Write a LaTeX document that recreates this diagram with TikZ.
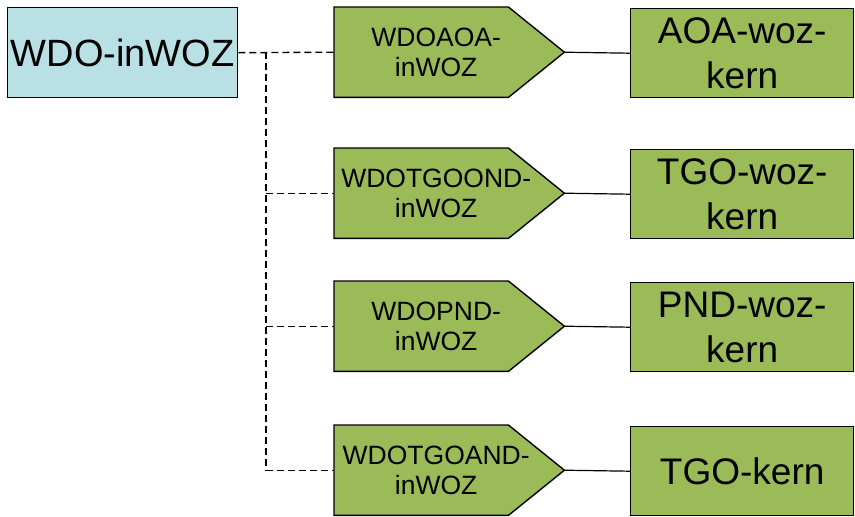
\documentclass[tikz,border=0pt]{standalone}
\usepackage{fontspec}
\setmainfont{Liberation Sans}
\definecolor{boxgreen}{HTML}{9BBB59}
\definecolor{boxcyan}{HTML}{B9E0E4}
\begin{document}
\begin{tikzpicture}[x=1pt,y=-1pt,
  frame/.style={draw=none,minimum width=230pt,minimum height=90pt,inner sep=0pt,anchor=north west},
  rootbox/.style={draw=black,line width=1.4pt,fill=boxcyan,minimum width=230pt,minimum height=90pt,inner sep=0pt,anchor=north west,font=\fontsize{38}{44}\selectfont},
  kernbox/.style={draw=black,line width=1.4pt,fill=boxgreen,minimum width=223pt,minimum height=89pt,inner sep=0pt,anchor=north west,align=center,font=\fontsize{37}{45}\selectfont},
  pentshape/.style={draw=black,line width=1.4pt,fill=boxgreen,line join=miter},
  penttext/.style={align=center,inner sep=0pt,font=\fontsize{26.5}{30}\selectfont},
  dashline/.style={draw=black,line width=1.4pt,dash pattern=on 7pt off 4pt},
  solidline/.style={draw=black,line width=1.2pt}]
\useasboundingbox (0,0) rectangle (855,517);

\node[rootbox] (wdo) at (7,7) {WDO-inWOZ};

\foreach \n/\t in {p1/7,p2/148,p3/281,p4/425}{
  \node[frame] (\n) at (334,\t) {};
  \path[pentshape] (\n.north west) -- ([xshift=-56pt]\n.north east) -- (\n.east)
     -- ([xshift=-56pt]\n.south east) -- (\n.south west) -- cycle;
}
\node[penttext] (p1t) at ([xshift=-13pt]p1.center) {WDOAOA-\\inWOZ};
\node[penttext] (p2t) at ([xshift=-13pt]p2.center) {WDOTGOOND-\\inWOZ};
\node[penttext] (p3t) at ([xshift=-13pt]p3.center) {WDOPND-\\inWOZ};
\node[penttext] (p4t) at ([xshift=-13pt]p4.center) {WDOTGOAND-\\inWOZ};

\node[kernbox] (r1) at (630,8) {AOA-woz-\\kern};
\node[kernbox] (r2) at (630,149) {TGO-woz-\\kern};
\node[kernbox] (r3) at (630,282) {PND-woz-\\kern};
\node[kernbox] (r4) at (630,426) {TGO-kern};

\draw[solidline] (p1.east) -- (r1.west);
\draw[solidline] (p2.east) -- (r2.west);
\draw[solidline] (p3.east) -- (r3.west);
\draw[solidline] (p4.east) -- (r4.west);

\coordinate (junc) at (266,52);
\draw[dashline] (wdo.east) -- (p1.west);
\draw[dashline] (junc) |- (p4.west);
\draw[dashline] (junc |- p2.west) -- (p2.west);
\draw[dashline] (junc |- p3.west) -- (p3.west);
\end{tikzpicture}
\end{document}
